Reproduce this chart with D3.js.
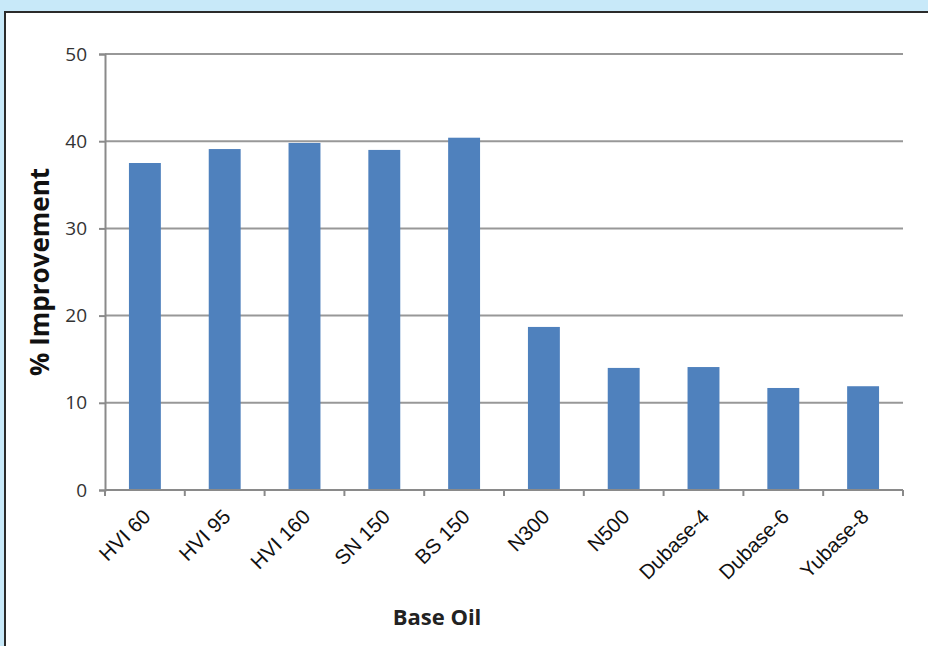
<!DOCTYPE html>
<html><head><meta charset="utf-8">
<script src="https://cdn.jsdelivr.net/npm/d3@7"></script>
<style>html,body{margin:0;padding:0;background:#c8e9f9;}svg{display:block;}</style>
</head><body>
<svg id="chart" width="928" height="646"></svg>
<script>
const categories = ["HVI 60","HVI 95","HVI 160","SN 150","BS 150","N300","N500","Dubase-4","Dubase-6","Yubase-8"];
const values = [37.5, 39.1, 39.8, 39.0, 40.4, 18.7, 14.0, 14.1, 11.7, 11.9];
const yTicks = [0,10,20,30,40,50];

const svg = d3.select("#chart");
svg.append("rect").attr("x",0).attr("y",0).attr("width",928).attr("height",646).attr("fill","#c8e9f9");
svg.append("rect").attr("x",5).attr("y",12).attr("width",940).attr("height",660)
  .attr("fill","#fff").attr("stroke","#2b2b2b").attr("stroke-width",2);

const m = {left:105, right:903, top:54, bottom:490};
const x = d3.scaleBand().domain(categories).range([m.left, m.right]).paddingInner(0.6).paddingOuter(0.3);
const y = d3.scaleLinear().domain([0,50]).range([m.bottom, m.top]);

// gridlines
svg.append("g").selectAll("line").data(yTicks.filter(d=>d>0)).join("line")
  .attr("x1",m.left).attr("x2",m.right).attr("y1",d=>y(d)).attr("y2",d=>y(d))
  .attr("stroke","#989898").attr("stroke-width",2);

// bars
svg.append("g").selectAll("rect").data(categories).join("rect")
  .attr("x",d=>x(d)).attr("width",x.bandwidth())
  .attr("y",(d,i)=>y(values[i])).attr("height",(d,i)=>y(0)-y(values[i]))
  .attr("fill","#4f81bd");

// y axis
const yAxis = d3.axisLeft(y).tickValues(yTicks).tickSize(6).tickPadding(12);
const gy = svg.append("g").attr("transform",`translate(${m.left},0)`).call(yAxis);
gy.select(".domain").attr("stroke","#8a8a8a").attr("stroke-width",2);
gy.selectAll(".tick line").attr("stroke","#8a8a8a").attr("stroke-width",2);
gy.selectAll("text").attr("font-family","'Open Sans', sans-serif").attr("font-size",19).attr("fill","#333");

// x axis with ticks at band boundaries
const bandStep = (m.right - m.left)/categories.length;
const bounds = d3.range(categories.length+1).map(i=>m.left + i*bandStep);
const gx = svg.append("g");
gx.append("line").attr("x1",m.left).attr("x2",m.right).attr("y1",y(0)).attr("y2",y(0))
  .attr("stroke","#8a8a8a").attr("stroke-width",2);
gx.selectAll("line.t").data(bounds).join("line").attr("class","t")
  .attr("x1",d=>d).attr("x2",d=>d).attr("y1",y(0)).attr("y2",y(0)+6)
  .attr("stroke","#8a8a8a").attr("stroke-width",2);
gx.selectAll("text").data(categories).join("text")
  .attr("transform",d=>`translate(${x(d)+x.bandwidth()/2+7},${y(0)+28}) rotate(-45)`)
  .attr("text-anchor","end")
  .attr("font-family","'Liberation Sans', Arial, sans-serif").attr("font-size",20.5).attr("fill","#111")
  .text(d=>d);

// axis titles
svg.append("text").attr("transform","translate(49,272) rotate(-90)")
  .attr("text-anchor","middle").attr("font-family","'Open Sans', sans-serif")
  .attr("font-weight","bold").attr("font-size",26).attr("fill","#111").text("% Improvement");
svg.append("text").attr("x",437).attr("y",625).attr("text-anchor","middle")
  .attr("font-family","'Open Sans', sans-serif").attr("font-weight","bold")
  .attr("font-size",22).attr("fill","#222").text("Base Oil");
</script>
</body></html>
